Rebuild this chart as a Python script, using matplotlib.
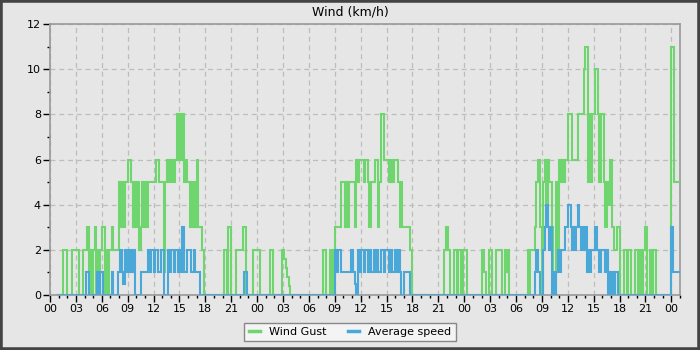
import numpy as np
import matplotlib.pyplot as plt
from matplotlib.patches import Rectangle

# wind samples every 10 min, first sample at 00:50 of day 1 (hours since start)
start_hour = 5 / 6
step_hour = 1 / 6

gust_day1 = [
    0,                   # 00
    0, 0, 0, 2, 2, 2,    # 01
    0, 0, 0, 2, 2, 2,    # 02
    2, 2, 0, 0, 0, 2,    # 03
    2, 2, 3, 0, 2, 0,    # 04
    2, 3, 0, 2, 0, 2,    # 05
    3, 3, 0, 2, 0, 2,    # 06
    2, 3, 2, 2, 2, 2,    # 07
    5, 3, 5, 3, 5, 5,    # 08
    6, 6, 5, 5, 3, 5,    # 09
    3, 5, 2, 3, 5, 3,    # 10
    5, 3, 5, 5, 5, 5,    # 11
    5, 5, 6, 6, 5, 5,    # 12
    5, 1, 5, 6, 5, 6,    # 13
    5, 6, 5, 6, 8, 6,    # 14
    8, 6, 8, 5, 6, 5,    # 15
    5, 3, 5, 3, 5, 3,    # 16
    6, 3, 3, 3, 2, 0,    # 17
    0, 0, 0, 0, 0, 0,    # 18
    0, 0, 0, 0, 0, 0,    # 19
    0, 2, 2, 0, 3, 3,    # 20
    0, 0, 0, 2, 2, 2,    # 21
    2, 2, 3, 3, 0, 0,    # 22
    0, 0, 0, 2, 2, 2,    # 23
]
gust_day2 = [
    2, 2, 0, 0, 0, 0,    # 00
    0, 0, 0, 2, 2, 0,    # 01
    0, 0, 0, 0, 0, 2,    # 02
    2, 1.6, 1.2, 0.8, 0.4, 0,  # 03
    0, 0, 0, 0, 0, 0,    # 04
    0, 0, 0, 0, 0, 0,    # 05
    0, 0, 0, 0, 0, 0,    # 06
    0, 0, 0, 0, 2, 2,    # 07
    0, 0, 0, 2, 0, 2,    # 08
    3, 3, 3, 3, 5, 5,    # 09
    5, 3, 5, 3, 5, 5,    # 10
    5, 5, 3, 6, 5, 6,    # 11
    6, 6, 5, 6, 6, 5,    # 12
    3, 5, 5, 5, 6, 6,    # 13
    3, 5, 8, 8, 6, 6,    # 14
    6, 6, 5, 6, 5, 6,    # 15
    6, 6, 5, 3, 5, 3,    # 16
    3, 3, 3, 3, 2, 2,    # 17
    0, 0, 0, 0, 0, 0,    # 18
    0, 0, 0, 0, 0, 0,    # 19
    0, 0, 0, 0, 0, 0,    # 20
    0, 0, 0, 0, 2, 3,    # 21
    3, 2, 0, 0, 0, 2,    # 22
    2, 0, 2, 2, 0, 2,    # 23
]
gust_day3 = [
    2, 2, 0, 0, 0, 0,    # 00
    0, 0, 0, 0, 0, 0,    # 01
    2, 2, 1, 0, 0, 2,    # 02
    2, 0, 0, 0, 2, 2,    # 03
    2, 2, 0, 0, 2, 1,    # 04
    2, 0, 0, 0, 0, 0,    # 05
    0, 0, 0, 0, 0, 0,    # 06
    0, 0, 2, 0, 2, 2,    # 07
    2, 3, 5, 6, 6, 3,    # 08
    0, 5, 6, 4, 6, 5,    # 09
    5, 3, 0, 0, 5, 2,    # 10
    6, 5, 6, 5, 6, 6,    # 11
    8, 8, 8, 6, 6, 6,    # 12
    6, 8, 8, 8, 8, 10,   # 13
    11, 11, 5, 8, 5, 8,  # 14
    8, 10, 10, 8, 5, 8,  # 15
    8, 5, 3, 5, 4, 6,    # 16
    6, 3, 2, 2, 3, 3,    # 17
    0, 0, 0, 2, 2, 0,    # 18
    2, 2, 0, 0, 0, 2,    # 19
    2, 0, 2, 0, 2, 2,    # 20
    3, 0, 0, 2, 0, 2,    # 21
    2, 0, 0, 0, 0, 0,    # 22
    0, 0, 0, 0, 0, 0,    # 23
    11, 11, 5, 5, 5, 5,  # 00
]

avg_day1 = [
    0,                   # 00
    0, 0, 0, 0, 0, 0,    # 01
    0, 0, 0, 0, 0, 0,    # 02
    0, 0, 0, 0, 0, 0,    # 03
    0, 1, 1, 0, 0, 0,    # 04
    0, 0, 0, 1, 0, 1,    # 05
    1, 0, 0, 0, 0, 0,    # 06
    0, 1, 0, 0, 0, 1,    # 07
    1, 2, 1, 0.5, 2, 1,  # 08
    2, 1, 2, 1, 2, 0,    # 09
    0, 0, 0, 1, 1, 1,    # 10
    1, 1, 2, 1, 2, 2,    # 11
    1, 2, 2, 1, 1, 2,    # 12
    2, 0, 0, 0, 2, 1,    # 13
    2, 2, 1, 2, 2, 1,    # 14
    2, 1, 3, 1, 1, 2,    # 15
    2, 2, 1, 1, 2, 1,    # 16
    1, 1, 0, 0, 0, 0,    # 17
    0, 0, 0, 0, 0, 0,    # 18
    0, 0, 0, 0, 0, 0,    # 19
    0, 0, 0, 0, 0, 0,    # 20
    0, 0, 0, 0, 0, 0,    # 21
    0, 0, 0, 1, 1, 0,    # 22
    0, 0, 0, 0, 0, 0,    # 23
]
avg_day2 = [
    0, 0, 0, 0, 0, 0,    # 00
    0, 0, 0, 0, 0, 0,    # 01
    0, 0, 0, 0, 0, 0,    # 02
    0, 0, 0, 0, 0, 0,    # 03
    0, 0, 0, 0, 0, 0,    # 04
    0, 0, 0, 0, 0, 0,    # 05
    0, 0, 0, 0, 0, 0,    # 06
    0, 0, 0, 0, 0, 0,    # 07
    0, 0, 0, 0, 0, 0,    # 08
    2, 1, 2, 2, 1, 1,    # 09
    1, 1, 1, 1, 1, 2,    # 10
    2, 1, 0.5, 0, 2, 1,  # 11
    2, 2, 1, 2, 2, 1,    # 12
    2, 1, 1, 2, 1, 2,    # 13
    1, 1, 2, 2, 1, 2,    # 14
    2, 2, 1, 2, 1, 1,    # 15
    2, 1, 2, 1, 0, 0,    # 16
    1, 1, 1, 1, 0, 0,    # 17
    0, 0, 0, 0, 0, 0,    # 18
    0, 0, 0, 0, 0, 0,    # 19
    0, 0, 0, 0, 0, 0,    # 20
    0, 0, 0, 0, 0, 0,    # 21
    0, 0, 0, 0, 0, 0,    # 22
    0, 0, 0, 0, 0, 0,    # 23
]
avg_day3 = [
    0, 0, 0, 0, 0, 0,    # 00
    0, 0, 0, 0, 0, 0,    # 01
    0, 0, 0, 0, 0, 0,    # 02
    0, 0, 0, 0, 0, 0,    # 03
    0, 0, 0, 0, 0, 0,    # 04
    0, 0, 0, 0, 0, 0,    # 05
    0, 0, 0, 0, 0, 0,    # 06
    0, 0, 0, 0, 0, 0,    # 07
    0, 1, 2, 1, 1, 0,    # 08
    0, 2, 3, 4, 3, 2,    # 09
    3, 0, 1, 0, 1, 2,    # 10
    1, 2, 2, 2, 3, 3,    # 11
    4, 4, 3, 2, 3, 2,    # 12
    3, 4, 3, 2, 3, 2,    # 13
    3, 1, 2, 1, 2, 2,    # 14
    2, 3, 2, 2, 1, 2,    # 15
    2, 2, 1, 2, 0, 1,    # 16
    0, 1, 0, 1, 1, 0,    # 17
    0, 0, 0, 0, 0, 0,    # 18
    0, 0, 0, 0, 0, 0,    # 19
    0, 0, 0, 0, 0, 0,    # 20
    0, 0, 0, 0, 0, 0,    # 21
    0, 0, 0, 0, 0, 0,    # 22
    0, 0, 0, 0, 0, 0,    # 23
    3, 1, 1, 1, 1, 1,    # 00
]

tick_hours = list(range(0, 73, 3))
tick_labels = ["00", "03", "06", "09", "12", "15", "18", "21"] * 3 + ["00"]

gust = gust_day1 + gust_day2 + gust_day3
avg = avg_day1 + avg_day2 + avg_day3
edges = start_hour + np.arange(len(gust) + 1) * step_hour

bg = "#e6e6e6"
fig = plt.figure(figsize=(7, 3.5), dpi=100, facecolor=bg)
ax = fig.add_axes([50 / 700, 55 / 350, 630 / 700, 271 / 350])
ax.set_facecolor(bg)

ax.stairs(gust, edges, baseline=None, color="#6fd66f", lw=1.5, label="Wind Gust", zorder=3)
ax.stairs(avg, edges, baseline=None, color="#4aa8d8", lw=1.5, label="Average speed", zorder=4)

ax.set_xlim(0, 73)
ax.set_ylim(0, 12)
ax.set_xticks(tick_hours)
ax.set_xticklabels(tick_labels)
ax.set_xticks(range(0, 74), minor=True)
ax.set_yticks(range(0, 13, 2))
ax.set_yticks(range(1, 13, 2), minor=True)
ax.tick_params(axis="both", which="major", length=5, width=1, labelsize=8, pad=1.5, color="black")
ax.tick_params(axis="both", which="minor", length=2.5, width=1, color="black")
ax.grid(True, which="major", color="#bdbdbd", linestyle=(0, (4, 3)), linewidth=0.9)
ax.set_axisbelow(True)
for s in ax.spines.values():
    s.set_color("#999999")
    s.set_linewidth(1.2)

fig.text(0.5, 1 - 12 / 350, "Wind (km/h)", ha="center", va="center", fontsize=9)

leg = fig.legend(
    loc="lower center",
    bbox_to_anchor=(0.5, 3 / 350),
    ncol=2,
    fontsize=8,
    handlelength=1.0,
    columnspacing=2.0,
    fancybox=False,
    framealpha=1,
    borderpad=0.4,
)
leg.get_frame().set_facecolor("#f4f4f4")
leg.get_frame().set_edgecolor("#888888")
leg.get_frame().set_linewidth(1.0)
for line in leg.get_lines():
    line.set_linewidth(2.5)

fig.add_artist(Rectangle((0, 0), 1, 1, transform=fig.transFigure, fill=False,
                         edgecolor="#444444", linewidth=4))

fig.savefig("out.png", dpi=100, facecolor=bg)
